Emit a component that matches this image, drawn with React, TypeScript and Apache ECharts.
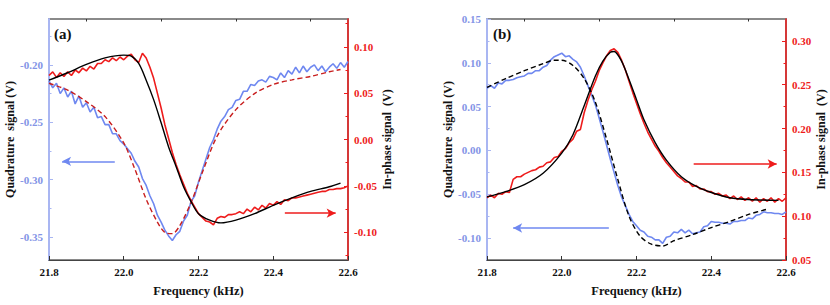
import React, { useEffect, useRef } from 'react';
import * as echarts from 'echarts';

const FONT = 'Liberation Serif, serif';

// Measured frequency grid for the noisy traces (kHz)
const freq: number[] = Array.from({ length: 81 }, (_, i) => Math.round((21.8 + i * 0.01) * 100) / 100);

// Panel (a) measured data
const quadA: number[] = [
  -0.214, -0.220, -0.216, -0.225, -0.220, -0.228, -0.223, -0.234, -0.227, -0.237,
  -0.233, -0.241, -0.237, -0.246, -0.245, -0.252, -0.252, -0.260, -0.260, -0.266,
  -0.269, -0.273, -0.277, -0.284, -0.289, -0.299, -0.305, -0.314, -0.321, -0.331,
  -0.337, -0.344, -0.349, -0.353, -0.348, -0.345, -0.336, -0.331, -0.319, -0.314,
  -0.302, -0.292, -0.282, -0.272, -0.265, -0.256, -0.249, -0.245, -0.239, -0.237,
  -0.231, -0.230, -0.223, -0.223, -0.217, -0.218, -0.214, -0.213, -0.215, -0.210,
  -0.211, -0.213, -0.207, -0.211, -0.205, -0.208, -0.202, -0.207, -0.201, -0.206,
  -0.202, -0.200, -0.205, -0.201, -0.206, -0.202, -0.199, -0.203, -0.198, -0.202,
  -0.197,
];
const inphA: number[] = [
  0.069, 0.073, 0.067, 0.072, 0.068, 0.073, 0.069, 0.075, 0.072, 0.077,
  0.074, 0.079, 0.076, 0.082, 0.082, 0.086, 0.084, 0.088, 0.085, 0.089,
  0.086, 0.090, 0.092, 0.086, 0.083, 0.093, 0.088, 0.078, 0.066, 0.050,
  0.034, 0.016, 0.001, -0.014, -0.027, -0.038, -0.048, -0.058, -0.066, -0.073,
  -0.080, -0.084, -0.088, -0.089, -0.092, -0.085, -0.083, -0.084, -0.081, -0.081,
  -0.080, -0.078, -0.080, -0.075, -0.078, -0.073, -0.076, -0.071, -0.074, -0.069,
  -0.071, -0.067, -0.070, -0.065, -0.066, -0.063, -0.063, -0.062, -0.061, -0.060,
  -0.059, -0.058, -0.057, -0.056, -0.056, -0.054, -0.054, -0.053, -0.053, -0.052,
  -0.050,
];
// Panel (a) fits
const fitQuadAFreq = [21.80, 21.85, 21.90, 21.95, 22.00, 22.03, 22.06, 22.09, 22.11, 22.13, 22.15, 22.18, 22.21, 22.25, 22.30, 22.35, 22.40, 22.45, 22.50, 22.55, 22.58];
const fitQuadA = [-0.216, -0.222, -0.232, -0.245, -0.268, -0.291, -0.317, -0.337, -0.346, -0.347, -0.340, -0.320, -0.294, -0.262, -0.239, -0.225, -0.217, -0.213, -0.210, -0.206, -0.204];
const fitInphAFreq = [21.80, 21.85, 21.90, 21.95, 22.00, 22.02, 22.04, 22.06, 22.08, 22.10, 22.12, 22.14, 22.16, 22.18, 22.20, 22.23, 22.26, 22.30, 22.35, 22.40, 22.45, 22.50, 22.55, 22.58];
const fitInphA = [0.064, 0.072, 0.081, 0.088, 0.091, 0.090, 0.082, 0.064, 0.043, 0.018, -0.008, -0.029, -0.051, -0.067, -0.080, -0.087, -0.090, -0.087, -0.080, -0.071, -0.063, -0.056, -0.051, -0.047];

// Panel (b) measured data
const quadB: number[] = [
  0.071, 0.074, 0.071, 0.077, 0.076, 0.080, 0.080, 0.081, 0.083, 0.084,
  0.085, 0.088, 0.088, 0.091, 0.091, 0.095, 0.097, 0.103, 0.107, 0.109,
  0.111, 0.107, 0.108, 0.104, 0.101, 0.095, 0.085, 0.074, 0.063, 0.052,
  0.037, 0.022, 0.006, -0.010, -0.025, -0.040, -0.053, -0.063, -0.073, -0.081,
  -0.086, -0.091, -0.093, -0.098, -0.099, -0.102, -0.102, -0.106, -0.099, -0.098,
  -0.093, -0.094, -0.090, -0.094, -0.091, -0.095, -0.094, -0.093, -0.087, -0.086,
  -0.081, -0.082, -0.082, -0.083, -0.083, -0.084, -0.081, -0.081, -0.080, -0.080,
  -0.077, -0.078, -0.074, -0.073, -0.070, -0.071, -0.071, -0.072, -0.072, -0.073,
  -0.070,
];
const inphB: number[] = [
  0.121, 0.124, 0.121, 0.126, 0.125, 0.128, 0.127, 0.142, 0.145, 0.145,
  0.148, 0.150, 0.152, 0.153, 0.156, 0.157, 0.161, 0.162, 0.167, 0.168,
  0.174, 0.177, 0.184, 0.188, 0.197, 0.199, 0.218, 0.232, 0.244, 0.254,
  0.266, 0.275, 0.283, 0.289, 0.291, 0.287, 0.278, 0.267, 0.254, 0.241,
  0.229, 0.217, 0.206, 0.196, 0.188, 0.180, 0.174, 0.167, 0.161, 0.156,
  0.151, 0.146, 0.143, 0.139, 0.139, 0.134, 0.135, 0.131, 0.131, 0.128,
  0.128, 0.125, 0.126, 0.123, 0.124, 0.120, 0.123, 0.119, 0.122, 0.118,
  0.121, 0.117, 0.121, 0.116, 0.120, 0.117, 0.121, 0.116, 0.120, 0.117,
  0.121,
];
// Panel (b) fits
const fitQuadBFreq = [21.80, 21.85, 21.90, 21.95, 21.98, 22.00, 22.03, 22.06, 22.09, 22.12, 22.15, 22.18, 22.21, 22.24, 22.27, 22.30, 22.35, 22.40, 22.45, 22.50, 22.55];
const fitQuadB = [0.072, 0.082, 0.091, 0.099, 0.103, 0.103, 0.097, 0.082, 0.055, 0.013, -0.033, -0.075, -0.098, -0.107, -0.109, -0.103, -0.096, -0.088, -0.081, -0.073, -0.067];
const fitInphBFreq = [21.80, 21.85, 21.90, 21.95, 22.00, 22.03, 22.06, 22.09, 22.11, 22.13, 22.14, 22.16, 22.18, 22.20, 22.22, 22.25, 22.28, 22.32, 22.36, 22.40, 22.45, 22.50, 22.58];
const fitInphB = [0.122, 0.128, 0.136, 0.149, 0.172, 0.193, 0.226, 0.260, 0.277, 0.287, 0.288, 0.277, 0.256, 0.233, 0.210, 0.184, 0.164, 0.145, 0.134, 0.127, 0.121, 0.119, 0.118];

// Tick labels
const xTicks = [21.8, 22.0, 22.2, 22.4, 22.6];
const xMinor = [21.9, 22.1, 22.3, 22.5];
const yLeftATicks = [-0.35, -0.30, -0.25, -0.20];
const yLeftAMinor = [-0.325, -0.275, -0.225, -0.175];
const yRightATicks = [-0.10, -0.05, 0.00, 0.05, 0.10];
const yRightAMinor = [-0.125, -0.075, -0.025, 0.025, 0.075, 0.125];
const yLeftBTicks = [-0.10, -0.05, 0.00, 0.05, 0.10, 0.15];
const yLeftBMinor = [-0.075, -0.025, 0.025, 0.075, 0.125];
const yRightBTicks = [0.05, 0.10, 0.15, 0.20, 0.25, 0.30];
const yRightBMinor = [0.075, 0.125, 0.175, 0.225, 0.275];

const BLUE = '#6f88f0';
const BLUE_AXIS = '#a9b6f2';
const BLUE_LABEL = '#8394e6';
const RED = '#ee1c1c';
const RED_DARK = '#c81e1e';

const pairs = (xs: number[], ys: number[]) => xs.map((x, i) => [x, ys[i]]);

function xAx(gridIndex: number) {
  return {
    type: 'value', gridIndex, min: 21.8, max: 22.6,
    name: 'Frequency (kHz)', nameLocation: 'middle', nameGap: 24,
    nameTextStyle: { fontFamily: FONT, fontWeight: 'bold', fontSize: 12.5, color: '#111' },
    axisLine: { show: true, onZero: false, lineStyle: { color: '#444', width: 1 } },
    axisTick: { show: true, inside: true, length: 4, customValues: xTicks, lineStyle: { color: '#333' } },
    axisLabel: { customValues: xTicks, formatter: (v: number) => v.toFixed(1), fontFamily: FONT, fontWeight: 'bold', fontSize: 11, color: '#111', margin: 6 },
    splitLine: { show: false },
  };
}
function xMinorAx(gridIndex: number) {
  return {
    type: 'value', gridIndex, min: 21.8, max: 22.6,
    axisLine: { show: false, onZero: false },
    axisTick: { show: true, inside: true, length: 2.5, customValues: xMinor, lineStyle: { color: '#333' } },
    axisLabel: { show: false },
    splitLine: { show: false },
  };
}
function yAx(gridIndex: number, position: string, min: number, max: number, majors: number[], lineColor: string, labelColor: string, name: string, nameGap: number, lineWidth: number) {
  return {
    type: 'value', gridIndex, position, min, max,
    name, nameLocation: 'middle', nameGap, nameRotate: 90,
    nameTextStyle: { fontFamily: FONT, fontWeight: 'bold', fontSize: 12, color: '#111' },
    axisLine: { show: true, onZero: false, lineStyle: { color: lineColor, width: lineWidth } },
    axisTick: { show: true, inside: true, length: 4, customValues: majors, lineStyle: { color: lineColor } },
    axisLabel: { customValues: majors, formatter: (v: number) => v.toFixed(2), fontFamily: FONT, fontWeight: 'bold', fontSize: 11, color: labelColor, margin: 6 },
    splitLine: { show: false },
  };
}
function yMinorAx(gridIndex: number, position: string, min: number, max: number, minors: number[], color: string) {
  return {
    type: 'value', gridIndex, position, min, max,
    axisLine: { show: false, onZero: false },
    axisTick: { show: true, inside: true, length: 2.5, customValues: minors, lineStyle: { color } },
    axisLabel: { show: false },
    splitLine: { show: false },
  };
}

function arrow(x1: number, x2: number, y: number, color: string) {
  return {
    silent: true, symbol: ['none', 'arrow'], symbolSize: [7, 9], animation: false,
    label: { show: false },
    lineStyle: { color, width: 1.5, type: 'solid' },
    emphasis: { disabled: true },
    data: [[{ coord: [x1, y] }, { coord: [x2, y] }]],
  };
}

const noisy = (name: string, xi: number, yi: number, data: number[][], color: string, markLine?: any) => ({
  name, type: 'line', xAxisIndex: xi, yAxisIndex: yi, data, symbol: 'none', showSymbol: false,
  lineStyle: { color, width: 1.6 }, z: 2, markLine,
});
const fit = (name: string, xi: number, yi: number, data: number[][], color: string, type: any) => ({
  name, type: 'line', xAxisIndex: xi, yAxisIndex: yi, data, symbol: 'none', showSymbol: false, smooth: 0.3,
  lineStyle: { color, width: 1.4, type }, z: 3,
});

export default function App() {
  const ref = useRef<HTMLDivElement>(null);
  useEffect(() => {
    const chart = echarts.init(ref.current!, null, { renderer: 'svg' });
    const option: any = {
      animation: false,
      backgroundColor: '#fff',
      textStyle: { fontFamily: FONT },
      grid: [
        { left: 49, right: 482, top: 19, bottom: 45, show: true, borderColor: '#8a8a8a', borderWidth: 2 },
        { left: 487, right: 44, top: 19, bottom: 45, show: true, borderColor: '#8a8a8a', borderWidth: 2 },
      ],
      xAxis: [xAx(0), xAx(1), xMinorAx(0), xMinorAx(1)],
      yAxis: [
        yAx(0, 'left', -0.37, -0.16, yLeftATicks, BLUE_AXIS, BLUE_LABEL, 'Quadrature  signal (V)', 32, 2),
        yAx(0, 'right', -0.13, 0.13, yRightATicks, RED, RED, 'In-phase signal  (V)', 28, 1.5),
        yAx(1, 'left', -0.125, 0.15, yLeftBTicks, BLUE_AXIS, BLUE_LABEL, 'Quadrature  signal (V)', 32, 2),
        yAx(1, 'right', 0.05, 0.325, yRightBTicks, RED, RED, 'In-phase signal  (V)', 24, 1.5),
        yMinorAx(0, 'left', -0.37, -0.16, yLeftAMinor, BLUE_AXIS),
        yMinorAx(0, 'right', -0.13, 0.13, yRightAMinor, RED),
        yMinorAx(1, 'left', -0.125, 0.15, yLeftBMinor, BLUE_AXIS),
        yMinorAx(1, 'right', 0.05, 0.325, yRightBMinor, RED),
      ],
      graphic: [
        { type: 'text', left: 54, top: 26, style: { text: '(a)', font: `bold 15px ${FONT}`, fill: '#111' } },
        { type: 'text', left: 493, top: 26, style: { text: '(b)', font: `bold 15px ${FONT}`, fill: '#111' } },
      ],
      series: [
        noisy('Quadrature (a)', 0, 0, pairs(freq, quadA), BLUE, arrow(21.976, 21.835, -0.284, BLUE)),
        noisy('In-phase (a)', 0, 1, pairs(freq, inphA), RED, arrow(22.431, 22.567, -0.0795, RED)),
        fit('Quadrature fit (a)', 0, 0, pairs(fitQuadAFreq, fitQuadA), RED_DARK, [5, 3]),
        fit('In-phase fit (a)', 0, 1, pairs(fitInphAFreq, fitInphA), '#000', 'solid'),
        noisy('Quadrature (b)', 1, 2, pairs(freq, quadB), BLUE, arrow(22.126, 21.870, -0.0885, BLUE)),
        noisy('In-phase (b)', 1, 3, pairs(freq, inphB), RED, arrow(22.353, 22.575, 0.1595, RED)),
        fit('Quadrature fit (b)', 1, 2, pairs(fitQuadBFreq, fitQuadB), '#000', [5, 3]),
        fit('In-phase fit (b)', 1, 3, pairs(fitInphBFreq, fitInphB), '#000', 'solid'),
      ],
    };
    chart.setOption(option);
    return () => chart.dispose();
  }, []);
  return <div ref={ref} style={{ position: 'fixed', left: 0, top: 0, width: 830, height: 305 }} />;
}
